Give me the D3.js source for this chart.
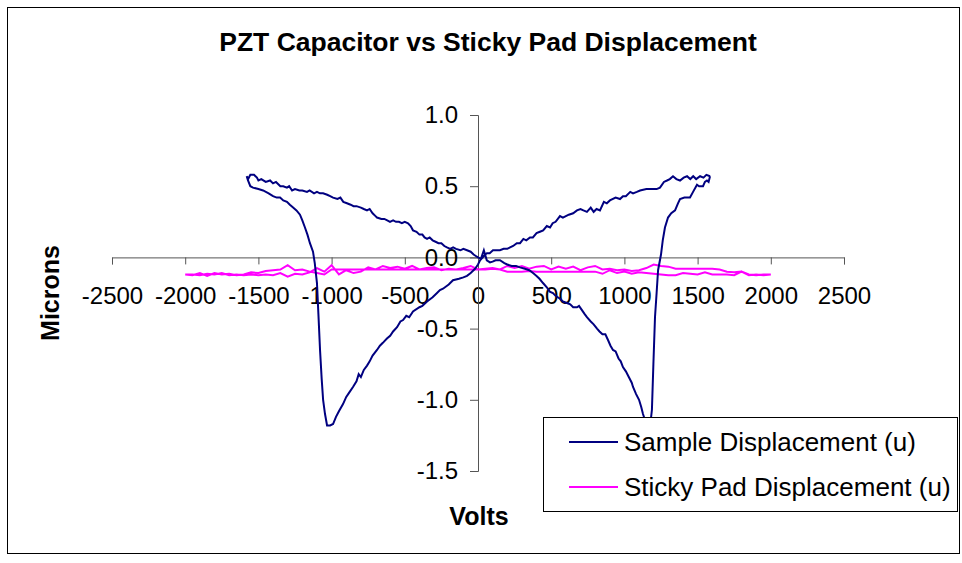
<!DOCTYPE html>
<html>
<head>
<meta charset="utf-8">
<script src="https://cdn.jsdelivr.net/npm/d3@7"></script>
<style>
  body { margin: 0; background: #fff; }
  text { font-family: "Liberation Sans", Arial, sans-serif; }
</style>
</head>
<body>
<svg id="chart" width="962" height="563"></svg>
<script>
// Sample displacement loop, points in recorded order (volts, microns)
var sampleVolts = [
  1585, 1560, 1540, 1517, 1490, 1470, 1450, 1428, 1405, 1380, 1355, 1332, 1310, 1291, 1270, 1243, 1220, 1195, 1150, 1107,
  1085, 1059, 1040, 1010, 990, 970, 940, 901, 880, 860, 833, 810, 790, 770, 744, 720, 700, 676, 650, 620,
  580, 560, 530, 510, 492, 470, 445, 423, 400, 375, 355, 330, 310, 287, 265, 240, 219, 200, 175, 150,
  125, 102, 80, 61, 40, 14, 0, -20, -50, -75, -100, -130, -171, -200, -239, -260, -280, -310, -348, -380,
  -400, -444, -470, -490, -512, -530, -553, -580, -600, -622, -650, -670, -690, -720, -740, -758, -780, -800, -815, -830,
  -854, -880, -900, -922, -950, -970, -990, -1010, -1031,
  -1045, -1058, -1068, -1079, -1090, -1100, -1115, -1127, -1148, -1165, -1182, -1200, -1216, -1240, -1263, -1285, -1305, -1330, -1352, -1375,
  -1400, -1430, -1468, -1500, -1537, -1555, -1571, -1580, -1570, -1555, -1530,
  -1510, -1500, -1480, -1450, -1420, -1400, -1380, -1350, -1330, -1305, -1290, -1270, -1250, -1220, -1200, -1168, -1150, -1120, -1100, -1080,
  -1058, -1030, -1010, -990, -960, -940, -920, -895, -870, -850, -830, -800, -780, -758, -740, -720, -700, -690, -660, -640,
  -620, -601, -580, -560, -540, -520, -500, -478, -460, -444, -420, -400, -380, -365, -348, -330, -310, -290, -270, -250,
  -230, -212, -190, -170, -150, -120, -100, -75, -50, -30, -15, 0, 20, 40, 60, 82, 100, 120, 150, 180,
  200, 230, 260, 287, 320, 350, 376, 400, 420, 444, 470, 490, 512, 530, 560, 580, 608, 630, 650, 676,
  690, 710, 730, 744, 770, 790, 813, 830, 850, 870, 888, 905, 922, 940, 960, 975, 990, 1010, 1030, 1050,
  1059, 1080, 1100, 1115, 1127, 1140, 1160, 1175,
  1188, 1198, 1209, 1220, 1230, 1250, 1262, 1277, 1298, 1320, 1346, 1366, 1380, 1410, 1448, 1469, 1496, 1510, 1537, 1550,
  1564, 1575, 1585
];
var sampleMicrons = [
  0.57, 0.58, 0.56, 0.57, 0.55, 0.57, 0.55, 0.57, 0.56, 0.54, 0.55, 0.57, 0.55, 0.54, 0.53, 0.49, 0.48, 0.48, 0.48, 0.47,
  0.46, 0.45, 0.46, 0.43, 0.43, 0.41, 0.42, 0.40, 0.38, 0.39, 0.33, 0.34, 0.32, 0.35, 0.32, 0.33, 0.34, 0.33, 0.31, 0.30,
  0.28, 0.29, 0.25, 0.24, 0.21, 0.22, 0.19, 0.18, 0.17, 0.14, 0.14, 0.12, 0.13, 0.10, 0.10, 0.08, 0.07, 0.06, 0.06, 0.05,
  0.05, 0.05, 0.03, 0.03, 0.01, -0.02, -0.05, -0.08, -0.11, -0.13, -0.14, -0.15, -0.16, -0.19, -0.22, -0.23, -0.25, -0.28, -0.31, -0.34,
  -0.35, -0.38, -0.42, -0.41, -0.44, -0.45, -0.49, -0.52, -0.55, -0.57, -0.60, -0.62, -0.65, -0.69, -0.73, -0.76, -0.79, -0.84, -0.82, -0.87,
  -0.91, -0.95, -0.98, -1.03, -1.08, -1.12, -1.17, -1.18, -1.18,
  -1.10, -1.00, -0.85, -0.65, -0.40, -0.18, -0.04, 0.04, 0.10, 0.16, 0.21, 0.26, 0.30, 0.33, 0.35, 0.37, 0.39, 0.40, 0.42, 0.42,
  0.43, 0.45, 0.47, 0.48, 0.49, 0.50, 0.54, 0.57, 0.55, 0.58, 0.58,
  0.56, 0.54, 0.55, 0.53, 0.54, 0.52, 0.53, 0.50, 0.50, 0.49, 0.50, 0.47, 0.48, 0.47, 0.47, 0.46, 0.47, 0.45, 0.46, 0.45,
  0.45, 0.44, 0.43, 0.42, 0.41, 0.42, 0.39, 0.38, 0.37, 0.36, 0.36, 0.35, 0.34, 0.33, 0.34, 0.31, 0.29, 0.28, 0.27, 0.27,
  0.26, 0.25, 0.26, 0.25, 0.25, 0.24, 0.25, 0.24, 0.22, 0.19, 0.18, 0.16, 0.16, 0.14, 0.13, 0.14, 0.12, 0.11, 0.10, 0.10,
  0.08, 0.07, 0.06, 0.07, 0.06, 0.05, 0.06, 0.05, 0.04, 0.02, 0.01, 0.00, -0.01, 0.05, -0.02, -0.035, -0.03, -0.02, -0.02, -0.04,
  -0.05, -0.06, -0.06, -0.07, -0.08, -0.09, -0.11, -0.13, -0.15, -0.18, -0.21, -0.24, -0.25, -0.27, -0.29, -0.31, -0.32, -0.33, -0.35, -0.35,
  -0.34, -0.37, -0.40, -0.42, -0.45, -0.47, -0.50, -0.52, -0.54, -0.54, -0.58, -0.62, -0.65, -0.66, -0.71, -0.73, -0.77, -0.80, -0.84, -0.88,
  -0.91, -0.96, -1.00, -1.05, -1.10, -1.14, -1.19, -1.19,
  -1.07, -0.75, -0.42, -0.25, -0.09, 0.02, 0.12, 0.21, 0.28, 0.31, 0.33, 0.38, 0.41, 0.42, 0.42, 0.46, 0.51, 0.50, 0.50, 0.53,
  0.54, 0.53, 0.57
];

// Sticky pad: voltage sweep up, then back down
var padVolts = [
  -2000, -1950, -1900, -1850, -1800, -1750, -1700, -1650, -1600, -1550, -1500, -1450, -1400, -1350, -1300, -1250, -1200, -1150, -1100, -1050,
  -1000, -950, -900, -850, -800, -750, -700, -650, -600, -550, -500, -450, -400, -350, -300, -250, -200, -150, -100, -50,
  0, 50, 100, 150, 200, 250, 300, 350, 400, 450, 500, 550, 600, 650, 700, 750, 800, 850, 900, 950,
  1000, 1050, 1100, 1150, 1200, 1250, 1300, 1350, 1400, 1450, 1500, 1550, 1600, 1650, 1700, 1750, 1800, 1850, 1900, 1950,
  2000
];
var padUp = [
  -0.12, -0.125, -0.11, -0.13, -0.11, -0.12, -0.115, -0.125, -0.12, -0.105, -0.11, -0.095, -0.09, -0.085, -0.055, -0.09, -0.085, -0.10, -0.11, -0.12,
  -0.085, -0.085, -0.085, -0.085, -0.085, -0.085, -0.085, -0.085, -0.085, -0.085, -0.085, -0.085, -0.085, -0.085, -0.085, -0.085, -0.085, -0.085, -0.085, -0.085,
  -0.085, -0.085, -0.08, -0.085, -0.06, -0.075, -0.06, -0.08, -0.065, -0.06, -0.085, -0.065, -0.08, -0.065, -0.09, -0.07, -0.06, -0.085, -0.08, -0.09,
  -0.085, -0.095, -0.09, -0.075, -0.05, -0.06, -0.065, -0.08, -0.08, -0.08, -0.08, -0.08, -0.08, -0.085, -0.10, -0.105, -0.10, -0.12, -0.125, -0.12,
  -0.12
];
var padDown = [
  -0.12, -0.12, -0.125, -0.115, -0.12, -0.11, -0.125, -0.12, -0.125, -0.12, -0.125, -0.12, -0.125, -0.11, -0.135, -0.115, -0.12, -0.105, -0.075, -0.10,
  -0.055, -0.12, -0.09, -0.11, -0.10, -0.07, -0.085, -0.06, -0.075, -0.065, -0.08, -0.06, -0.085, -0.075, -0.07, -0.09, -0.08, -0.085, -0.075, -0.06,
  -0.085, -0.08, -0.075, -0.085, -0.10, -0.10, -0.10, -0.095, -0.10, -0.10, -0.10, -0.10, -0.10, -0.10, -0.10, -0.10, -0.10, -0.115, -0.09, -0.11,
  -0.10, -0.115, -0.105, -0.11, -0.115, -0.12, -0.125, -0.125, -0.11, -0.115, -0.12, -0.105, -0.12, -0.12, -0.12, -0.125, -0.10, -0.125, -0.12, -0.125,
  -0.12
];

var xTicks = [-2500, -2000, -1500, -1000, -500, 0, 500, 1000, 1500, 2000, 2500];
var yTicks = [-1.5, -1.0, -0.5, 0.0, 0.5, 1.0];
var seriesNames = ["Sample Displacement (u)", "Sticky Pad Displacement (u)"];
var seriesColors = ["#000080", "#FF00FF"];

// plain hyphen for negatives, like the original
d3.formatDefaultLocale({
  decimal: ".", thousands: ",", grouping: [3], currency: ["$", ""], minus: "-"
});

var svg = d3.select("#chart");

// chart frame
svg.append("rect")
  .attr("x", 7.5).attr("y", 7.5)
  .attr("width", 952).attr("height", 546)
  .attr("fill", "#fff").attr("stroke", "#000").attr("stroke-width", 1);

var x = d3.scaleLinear().domain([-2500, 2500]).range([112, 844]);
var y = d3.scaleLinear().domain([-1.5, 1.0]).range([471, 115]);

// x axis crosses at 0
var xAxis = d3.axisBottom(x).tickValues(xTicks).tickSize(7).tickPadding(23)
  .tickFormat(d3.format("d"));
svg.append("g")
  .attr("transform", "translate(0," + y(0) + ")")
  .call(xAxis)
  .call(g => g.select(".domain").attr("stroke", "#555"))
  .call(g => g.selectAll(".tick line").attr("stroke", "#555"))
  .call(g => g.selectAll("text").attr("font-size", 24).attr("fill", "#000")
    .attr("font-family", "Liberation Sans, Arial, sans-serif"));

// y axis crosses at 0
var yAxis = d3.axisLeft(y).tickValues(yTicks).tickSize(8).tickPadding(12)
  .tickFormat(d3.format(".1f"));
svg.append("g")
  .attr("transform", "translate(" + x(0) + ",0)")
  .call(yAxis)
  .call(g => g.select(".domain").attr("stroke", "#555"))
  .call(g => g.selectAll(".tick line").attr("stroke", "#555"))
  .call(g => g.selectAll("text").attr("font-size", 24).attr("fill", "#000")
    .attr("font-family", "Liberation Sans, Arial, sans-serif"));

var line = d3.line()
  .x(d => x(d[0]))
  .y(d => y(d[1]));

var padPoints = padVolts.map((v, i) => [v, padUp[i]])
  .concat(padVolts.map((v, i) => [v, padDown[i]]).reverse());
var samplePoints = sampleVolts.map((v, i) => [v, sampleMicrons[i]]);

svg.append("path")
  .datum(padPoints)
  .attr("d", line)
  .attr("fill", "none")
  .attr("stroke", seriesColors[1])
  .attr("stroke-width", 2);

svg.append("path")
  .datum(samplePoints)
  .attr("d", line)
  .attr("fill", "none")
  .attr("stroke", seriesColors[0])
  .attr("stroke-width", 2);

// title and axis titles
svg.append("text")
  .attr("x", 488).attr("y", 51)
  .attr("text-anchor", "middle")
  .attr("font-size", 26.5).attr("font-weight", "bold")
  .text("PZT Capacitor vs Sticky Pad Displacement");

svg.append("text")
  .attr("x", 479).attr("y", 525)
  .attr("text-anchor", "middle")
  .attr("font-size", 25).attr("font-weight", "bold")
  .text("Volts");

svg.append("text")
  .attr("transform", "translate(59,293) rotate(-90)")
  .attr("text-anchor", "middle")
  .attr("font-size", 25).attr("font-weight", "bold")
  .text("Microns");

// legend
var legend = svg.append("g");
legend.append("rect")
  .attr("x", 543.5).attr("y", 417.5)
  .attr("width", 414).attr("height", 94)
  .attr("fill", "#fff").attr("stroke", "#000").attr("stroke-width", 1);

seriesNames.forEach(function(name, i) {
  var ly = 442 + i * 45;
  legend.append("line")
    .attr("x1", 569).attr("x2", 618)
    .attr("y1", ly).attr("y2", ly)
    .attr("stroke", seriesColors[i]).attr("stroke-width", 2);
  legend.append("text")
    .attr("x", 624).attr("y", ly + 9)
    .attr("font-size", 26)
    .text(name);
});
</script>
</body>
</html>
